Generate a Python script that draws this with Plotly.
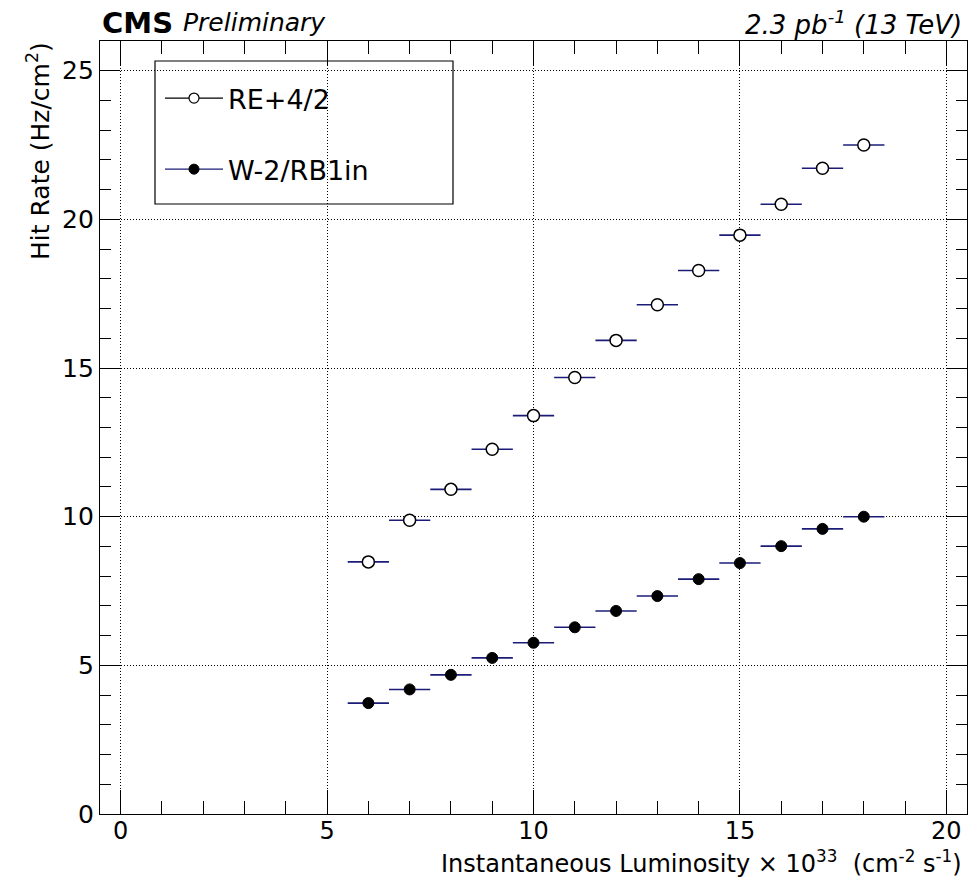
import plotly.graph_objects as go

lumi = [6, 7, 8, 9, 10, 11, 12, 13, 14, 15, 16, 17, 18]
lumi_err = [0.5] * 13
re42_rate = [8.48, 9.88, 10.92, 12.27, 13.40, 14.68, 15.93, 17.13, 18.28, 19.47, 20.51, 21.72, 22.50]
w2rb1_rate = [3.73, 4.19, 4.68, 5.25, 5.76, 6.28, 6.83, 7.33, 7.90, 8.44, 9.01, 9.59, 10.00]

series_names = ["RE+4/2", "W-2/RB1in"]

FONT = "DejaVu Sans, Liberation Sans, Arial, sans-serif"
NAVY = "#1c1c78"

W, H = 979, 881
L, R, T, B = 100, 12, 41, 67
PW, PH = W - L - R, H - T - B


def px(x):
    return (x - L) / PW


def py(y):
    return (H - B - y) / PH


fig = go.Figure()

# data traces
fig.add_trace(go.Scatter(
    x=lumi, y=re42_rate, mode="markers", showlegend=False,
    error_x=dict(type="data", array=lumi_err, width=0, thickness=1.6, color=NAVY),
    marker=dict(symbol="circle", size=12, color="white", line=dict(color="black", width=1.5)),
))
fig.add_trace(go.Scatter(
    x=lumi, y=w2rb1_rate, mode="markers", showlegend=False,
    error_x=dict(type="data", array=lumi_err, width=0, thickness=1.6, color=NAVY),
    marker=dict(symbol="circle", size=11, color="black", line=dict(color="black", width=1)),
))

# legend entries
fig.add_trace(go.Scatter(
    x=[None], y=[None], mode="lines+markers", name=series_names[0], legendgroup="a",
    line=dict(color="black", width=1.2),
    marker=dict(symbol="circle", size=10, color="white", line=dict(color="black", width=1.2)),
))
fig.add_trace(go.Scatter(
    x=[None], y=[None], mode="lines+markers", name=series_names[1], legendgroup="b",
    line=dict(color=NAVY, width=1.2),
    marker=dict(symbol="circle", size=10, color="black", line=dict(color="black", width=1)),
))

axis_common = dict(
    showline=True, linecolor="black", linewidth=1.2, mirror="allticks",
    ticks="inside", tickcolor="black", tickwidth=1.2,
    showgrid=True, gridcolor="black", griddash="1px,2px", gridwidth=1,
    zeroline=False,
)

fig.update_xaxes(range=[-0.5, 20.5], tick0=0, dtick=5, ticklen=24, ticklabelstandoff=-5,
                 tickfont=dict(family=FONT, size=24, color="black"),
                 minor=dict(ticks="inside", ticklen=13, tickcolor="black", tickwidth=1.2, dtick=1, showgrid=False),
                 **axis_common)
fig.update_yaxes(range=[0, 26], tick0=0, dtick=5, ticklen=20,
                 tickfont=dict(family=FONT, size=25, color="black"),
                 minor=dict(ticks="inside", ticklen=11, tickcolor="black", tickwidth=1.2, dtick=1, showgrid=False),
                 **axis_common)

fig.update_layout(
    width=W, height=H,
    margin=dict(l=L, r=R, t=T, b=B),
    paper_bgcolor="white", plot_bgcolor="white",
    font=dict(family=FONT, color="black"),
    legend=dict(
        x=px(160), y=py(74), xanchor="left", yanchor="top",
        bgcolor="rgba(0,0,0,0)", borderwidth=0,
        font=dict(family=FONT, size=27, color="black"),
        tracegroupgap=33, itemwidth=58,
    ),
    shapes=[dict(
        type="rect", xref="paper", yref="paper",
        x0=px(155), x1=px(453), y0=py(204), y1=py(61),
        line=dict(color="black", width=1.2), fillcolor="rgba(0,0,0,0)",
    )],
    annotations=[
        dict(text="<b>CMS</b>", x=px(100), y=py(23), xref="paper", yref="paper",
             xanchor="left", yanchor="middle", showarrow=False,
             font=dict(family=FONT, size=29, color="black")),
        dict(text="<i>Preliminary</i>", x=px(181), y=py(23), xref="paper", yref="paper",
             xanchor="left", yanchor="middle", showarrow=False,
             font=dict(family=FONT, size=25, color="black")),
        dict(text="<i>2.3 pb<sup>-1</sup> (13 TeV)</i>", x=px(964), y=py(23), xref="paper", yref="paper",
             xanchor="right", yanchor="middle", showarrow=False,
             font=dict(family=FONT, size=26, color="black")),
        dict(text="Hit Rate (Hz/cm<sup>2</sup>)", x=px(38), y=py(40), xref="paper", yref="paper",
             xanchor="center", yanchor="top", textangle=-90, showarrow=False,
             font=dict(family=FONT, size=25, color="black")),
        dict(text="Instantaneous Luminosity \u00d7 10<sup>33</sup>  (cm<sup>-2</sup> s<sup>-1</sup>)",
             x=px(964), y=py(880), xref="paper", yref="paper",
             xanchor="right", yanchor="bottom", showarrow=False,
             font=dict(family=FONT, size=24, color="black")),
    ],
)

fig.write_html("out.html")
